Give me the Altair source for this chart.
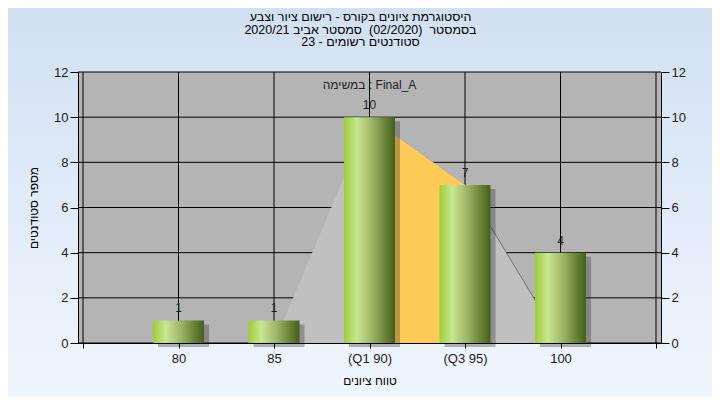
import altair as alt
import pandas as pd

# ---- data ----
grade_labels = ["80", "85", "(Q1 90)", "(Q3 95)", "100"]
positions = [1, 2, 3, 4, 5]
student_counts = [1, 1, 10, 7, 4]
curve_values = [0, 0, 10, 7, 0]
y_ticks = [0, 2, 4, 6, 8, 10, 12]
x_grid = [0, 1, 2, 3, 4, 5, 6]

title_lines = [
    "היסטוגרמת ציונים בקורס - רישום ציור וצבע",
    "בסמסטר \u00a0(02/2020) \u00a0סמסטר אביב 2020/21",
    "סטודנטים רשומים - 23",
]
task_note = "במשימה : Final_A"
x_title = "טווח ציונים"
y_title = "מספר סטודנטים"

W, H = 583, 271
PAD = {"left": 70, "top": 64, "right": 51, "bottom": 54}
FONT = "Liberation Sans"

df = pd.DataFrame({
    "pos": positions,
    "label": grade_labels,
    "count": student_counts,
    "curve": curve_values,
})
df["iqr"] = df["label"].str.startswith("(Q")
iqr_df = df[df["iqr"]]

label_expr = "[" + ",".join(["''"] + [f"'{l}'" for l in grade_labels] + ["''"]) + "][datum.value]"

xscale = alt.Scale(domain=[0, 6], nice=False, zero=False)
yscale = alt.Scale(domain=[0, 12], nice=False)

one = alt.Data(values=[{"a": 1}])

background = alt.Chart(one).mark_rect(
    fill=alt.Gradient(gradient="linear", x1=0, x2=0, y1=0, y2=1,
                      stops=[alt.GradientStop(color="#d2e0f3", offset=0),
                             alt.GradientStop(color="#f0f6fd", offset=1)]),
    clip=False,
).encode(x=alt.value(-PAD["left"]), x2=alt.value(W + PAD["right"]),
         y=alt.value(-PAD["top"]), y2=alt.value(H + PAD["bottom"]))

plot_bg = alt.Chart(one).mark_rect(fill="#b4b4b4").encode(
    x=alt.value(0), x2=alt.value(W), y=alt.value(0), y2=alt.value(H))

hgrid = alt.Chart(pd.DataFrame({"v": y_ticks})).mark_rule(color="#000000", strokeWidth=1).encode(
    y=alt.Y("v:Q", scale=yscale, axis=None), x=alt.value(0), x2=alt.value(W))

vgrid = alt.Chart(pd.DataFrame({"g": x_grid})).mark_rule(color="#000000", strokeWidth=1).encode(
    x=alt.X("g:Q", scale=xscale, axis=None), y=alt.value(0), y2=alt.value(H))

curve_shadow = alt.Chart(df).mark_area(color="#6a6a6a", xOffset=1.5, yOffset=1).encode(
    x=alt.X("pos:Q", scale=xscale, axis=None), y=alt.Y("curve:Q", scale=yscale, axis=None))

curve_area = alt.Chart(df).mark_area(color="#c0c0c0").encode(
    x=alt.X("pos:Q", scale=xscale, axis=None), y=alt.Y("curve:Q", scale=yscale, axis=None))

iqr_area = alt.Chart(iqr_df).mark_area(color="#ffcb57").encode(
    x=alt.X("pos:Q", scale=xscale, axis=None), y=alt.Y("curve:Q", scale=yscale, axis=None))

bar_shadow = alt.Chart(df).mark_bar(size=51, color="#2a2a2a", opacity=0.33,
                                    xOffset=5, yOffset=4, clip=False).encode(
    x=alt.X("pos:Q", scale=xscale, axis=None), y=alt.Y("count:Q", scale=yscale, axis=None))

bar_fill = alt.Gradient(
    gradient="linear", x1=0, x2=1, y1=0, y2=0,
    stops=[alt.GradientStop(color="#9ccd3a", offset=0),
           alt.GradientStop(color="#c9e690", offset=0.25),
           alt.GradientStop(color="#9db466", offset=0.55),
           alt.GradientStop(color="#6a8437", offset=0.8),
           alt.GradientStop(color="#455f1c", offset=1)])

axis_common = dict(labelFont=FONT, labelFontSize=13, labelColor="#1c1c1c",
                   titleFont=FONT, titleFontSize=12, titleFontWeight="normal",
                   titleColor="#000000", domainColor="#000000", tickColor="#000000",
                   grid=False, zindex=1)

bars = alt.Chart(df).mark_bar(size=51, fill=bar_fill).encode(
    x=alt.X("pos:Q", scale=xscale,
            axis=alt.Axis(values=x_grid, labelExpr=label_expr, title=x_title,
                          tickSize=5, labelPadding=4, titlePadding=10, **axis_common)),
    y=alt.Y("count:Q", scale=yscale,
            axis=alt.Axis(values=y_ticks, orient="left", title=y_title, tickSize=8,
                          labelPadding=2, titlePadding=13, **axis_common)),
)

bar_text = alt.Chart(df).mark_text(font=FONT, fontSize=12, color="#1e1e1e", dy=-8,
                                   baseline="alphabetic").encode(
    x=alt.X("pos:Q", scale=xscale, axis=None),
    y=alt.Y("count:Q", scale=yscale,
            axis=alt.Axis(values=y_ticks, orient="right", title=None, tickSize=8,
                          labelPadding=2, **axis_common)),
    text=alt.Text("count:Q"),
)

note = alt.Chart(one).mark_text(font=FONT, fontSize=12, color="#1e1e1e").encode(
    x=alt.value(W / 2), y=alt.value(13), text=alt.value(task_note))

title_text = alt.Chart(one).mark_text(
    font=FONT, fontSize=12.5, color="#000000", align="center", baseline="top",
    lineHeight=12.5, clip=False,
).encode(x=alt.value(W / 2 - 9), y=alt.value(-61), text=alt.value(title_lines))

chart = alt.layer(
    background, plot_bg, hgrid, vgrid, curve_shadow, curve_area, iqr_area,
    bar_shadow, bars, bar_text, note, title_text
).resolve_axis(y="independent", x="independent").properties(
    width=W, height=H,
    autosize=alt.AutoSizeParams(type="none"),
    padding=PAD,
).configure_view(stroke=None, fill=None).configure(background="#e2ecf8")

chart.save("out.html", embed_options={"renderer": "svg", "actions": False})
